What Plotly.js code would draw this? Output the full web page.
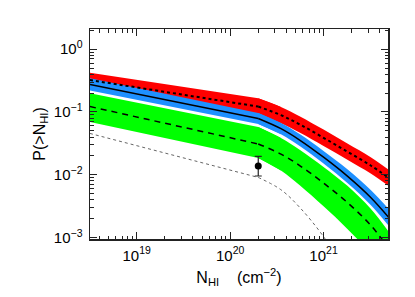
<!DOCTYPE html>
<html>
<head>
<meta charset="utf-8">
<script src="https://cdn.plot.ly/plotly-3.0.1.min.js"></script>
<style>html,body{margin:0;padding:0;background:#fff;}#chart{width:415px;height:297px;}</style>
</head>
<body>
<div id="chart"></div>
<script>
// Column density N_HI (cm^-2) sample points (index 1 = break at 2e20)
const nhi = [3.16e18, 2.0e20, 3.5e20, 5.6e20, 1.0e21, 1.8e21, 3.2e21, 5.0e21];
// Red band and its dotted central curve
const redHi  = [0.4227, 0.1648, 0.1202, 0.0851, 0.0525, 0.0316, 0.0191, 0.0120];
const redMid = [0.322, 0.122, 0.0891, 0.0631, 0.0389, 0.0234, 0.0141, 0.00891];
const redLo  = [0.2455, 0.0906, 0.0661, 0.0468, 0.0288, 0.0174, 0.0105, 0.0066];
// Blue band and its solid central curve
const blueHi  = [0.3443, 0.0966, 0.0668, 0.0442, 0.0240, 0.0123, 0.00575, 0.00285];
const blueMid = [0.2735, 0.0789, 0.0543, 0.0355, 0.0191, 0.00955, 0.00437, 0.00209];
const blueLo  = [0.2188, 0.0644, 0.0442, 0.0285, 0.0151, 0.00741, 0.00331, 0.00153];
// Green band and its dashed central curve
const greenHi  = [0.198, 0.0578, 0.0387, 0.0249, 0.0134, 0.0067, 0.0029, 0.00124];
const greenMid = [0.122, 0.0310, 0.0214, 0.01396, 0.00741, 0.00363, 0.00158, 0.00068];
const greenLo  = [0.0693, 0.0186, 0.01175, 0.00676, 0.00316, 0.00138, 0.00056, 0.00024];
// Thin grey dotted curve
const greyCurve = [0.0456, 0.0091, 0.0058, 0.0030, 0.00104, 0.00026, 0.00005, 0.00001];
// Measured point
const obsN = [2.0e20];
const obsP = [0.0139];
const obsErrPlus = [0.0058];
const obsErrMinus = [0.0043];
// Tick labels
const xTickVals = [1e19, 1e20, 1e21];
const xTickText = ['10<sup>19</sup>', '10<sup>20</sup>', '10<sup>21</sup>'];
const yTickVals = [1, 0.1, 0.01, 0.001];
const yTickText = ['10<sup>0</sup>', '10<sup>\u22121</sup>', '10<sup>\u22122</sup>', '10<sup>\u22123</sup>'];
const xMinorVals = [4e18, 5e18, 6e18, 7e18, 8e18, 9e18, 2e19, 3e19, 4e19, 5e19, 6e19, 7e19, 8e19, 9e19,
                    2e20, 3e20, 4e20, 5e20, 6e20, 7e20, 8e20, 9e20, 2e21, 3e21, 4e21];
const yMinorVals = [0.002, 0.003, 0.004, 0.005, 0.006, 0.007, 0.008, 0.009,
                    0.02, 0.03, 0.04, 0.05, 0.06, 0.07, 0.08, 0.09,
                    0.2, 0.3, 0.4, 0.5, 0.6, 0.7, 0.8, 0.9, 2];

const BREAK = 1;
// 'a' = straight power-law part (drawn one sample further, underneath), 'b' = curved part
function part(arr, which) { return which === 'a' ? arr.slice(0, BREAK + 2) : arr.slice(BREAK); }
function partLine(arr, which) { return which === 'a' ? arr.slice(0, BREAK + 1) : arr.slice(BREAK); }

function bandTraces(hi, lo, color) {
  const out = [];
  ['a', 'b'].forEach(function (w) {
    const shape = w === 'a' ? 'linear' : 'spline';
    out.push({x: part(nhi, w), y: part(lo, w), type: 'scatter', mode: 'lines',
              line: {width: 0, color: color, shape: shape}, hoverinfo: 'skip', showlegend: false});
    out.push({x: part(nhi, w), y: part(hi, w), type: 'scatter', mode: 'lines', fill: 'tonexty',
              fillcolor: color, line: {width: 0, color: color, shape: shape}, hoverinfo: 'skip', showlegend: false});
  });
  return out;
}

function lineTraces(vals, lineStyle) {
  return ['a', 'b'].map(function (w) {
    return {x: partLine(nhi, w), y: partLine(vals, w), type: 'scatter', mode: 'lines',
            line: Object.assign({shape: w === 'a' ? 'linear' : 'spline'}, lineStyle), showlegend: false};
  });
}

let traces = [];
traces = traces.concat(bandTraces(redHi, redLo, '#ff0000'));
traces = traces.concat(bandTraces(blueHi, blueLo, '#1e90ff'));
traces = traces.concat(bandTraces(greenHi, greenLo, '#00ff00'));
traces = traces.concat(lineTraces(greyCurve, {color: '#666666', width: 1, dash: 'dot'}));
traces = traces.concat(lineTraces(redMid, {color: '#000000', width: 2, dash: 'dot'}));
traces = traces.concat(lineTraces(blueMid, {color: '#000000', width: 1.5}));
traces = traces.concat(lineTraces(greenMid, {color: '#000000', width: 1.5, dash: '6px,5px'}));
traces.push({x: obsN, y: obsP, type: 'scatter', mode: 'markers',
   marker: {color: '#000000', size: 7},
   error_y: {type: 'data', symmetric: false, array: obsErrPlus, arrayminus: obsErrMinus, color: '#222222', thickness: 1.2, width: 3.5},
   showlegend: false});

const FONT = 'Liberation Sans, Arial, sans-serif';
const axisCommon = {
  type: 'log', showgrid: false, zeroline: false,
  showline: true, linecolor: '#222', linewidth: 1.5,
  mirror: 'allticks', ticks: 'inside', ticklen: 7, tickwidth: 1, tickcolor: '#222',
  tickmode: 'array',
  tickfont: {family: FONT, size: 15, color: '#000'}
};

const layout = {
  width: 415, height: 297,
  margin: {l: 90, r: 27, t: 29, b: 58},
  paper_bgcolor: '#fff', plot_bgcolor: '#fff',
  showlegend: false,
  xaxis: Object.assign({}, axisCommon, {
    range: [18.5, 21.69], tickvals: xTickVals, ticktext: xTickText,
    ticklabelstandoff: 2,
    minor: {ticks: 'inside', ticklen: 3.5, tickcolor: '#222', tickwidth: 1, tickmode: 'array', tickvals: xMinorVals, showgrid: false},
    title: {text: 'N<sub>HI</sub>\u00a0\u00a0\u00a0\u00a0(cm<sup>\u22122</sup>)', font: {family: FONT, size: 16, color: '#000'}, standoff: 9}
  }),
  yaxis: Object.assign({}, axisCommon, {
    range: [-3.02, 0.32], tickvals: yTickVals, ticktext: yTickText,
    ticklabelstandoff: 3,
    minor: {ticks: 'inside', ticklen: 3.5, tickcolor: '#222', tickwidth: 1, tickmode: 'array', tickvals: yMinorVals, showgrid: false},
    title: {text: 'P(&gt;N<sub>HI</sub>)', font: {family: FONT, size: 16, color: '#000'}, standoff: 4}
  })
};

Plotly.newPlot('chart', traces, layout, {displayModeBar: false, staticPlot: true});
</script>
</body>
</html>
